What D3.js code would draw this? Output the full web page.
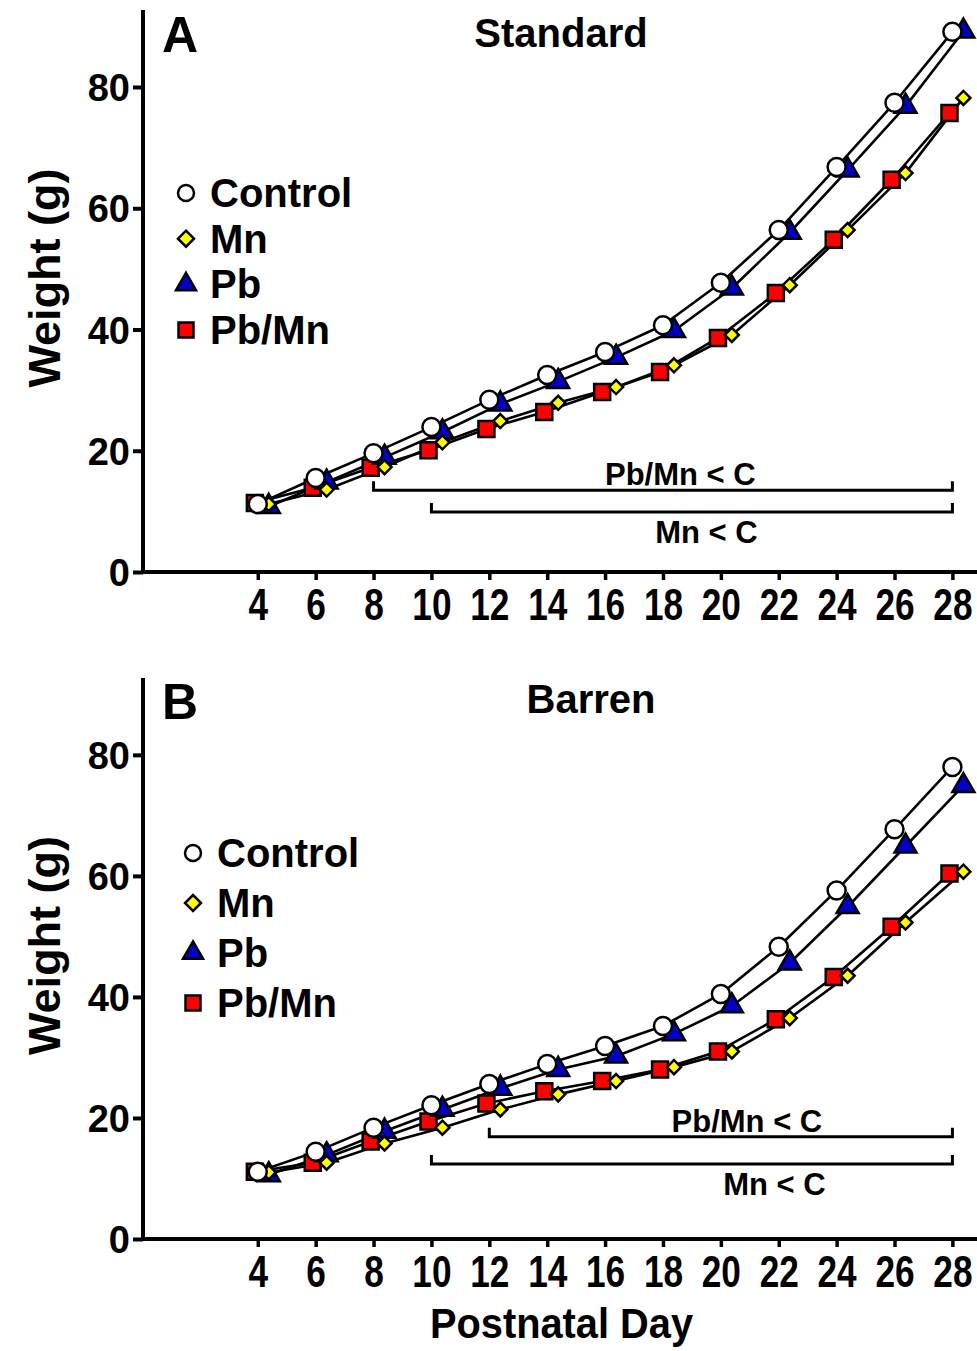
<!DOCTYPE html>
<html>
<head>
<meta charset="utf-8">
<script src="https://cdn.jsdelivr.net/npm/d3@7"></script>
<style>
  html, body { margin: 0; padding: 0; background: #fff; }
  svg { display: block; }
  text { font-family: "Liberation Sans", Arial, Helvetica, sans-serif; font-weight: bold; fill: #000; }
</style>
</head>
<body>
<script>
// ---- data ---------------------------------------------------------------
const days = [4, 6, 8, 10, 12, 14, 16, 18, 20, 22, 24, 26, 28];
const groups = ["Control", "Mn", "Pb", "Pb/Mn"];
const yTicks = [0, 20, 40, 60, 80];

// Body weight (g), standard housing
const standardControl = [11.2, 15.5, 19.6, 23.9, 28.4, 32.5, 36.3, 40.7, 47.7, 56.4, 66.8, 77.4, 89.1];
const standardMn      = [11.2, 13.6, 17.3, 21.4, 24.9, 27.9, 30.5, 34.1, 39.1, 47.3, 56.4, 65.8, 78.2];
const standardPb      = [10.8, 14.8, 18.9, 23.1, 27.7, 31.4, 35.4, 39.8, 46.8, 56.0, 66.3, 76.8, 89.2];
const standardPbMn    = [11.4, 13.9, 17.2, 20.1, 23.6, 26.4, 29.7, 33.0, 38.6, 46.0, 54.8, 64.7, 75.7];

// Body weight (g), barren housing
const barrenControl = [11.1, 14.4, 18.4, 22.1, 25.6, 28.9, 31.9, 35.2, 40.5, 48.3, 57.6, 67.7, 78.0];
const barrenMn      = [11.0, 12.6, 15.8, 18.4, 21.4, 23.9, 26.1, 28.4, 31.0, 36.5, 43.5, 52.3, 60.7];
const barrenPb      = [10.6, 13.9, 17.8, 21.4, 24.9, 28.0, 30.2, 33.9, 38.5, 45.6, 54.9, 64.9, 74.9];
const barrenPbMn    = [11.1, 12.6, 16.1, 19.4, 22.4, 24.4, 26.1, 28.0, 31.0, 36.3, 43.3, 51.6, 60.4];

// Significance brackets: [first day, last day, label]
const standardSig = [[8, 28, "Pb/Mn < C"], [10, 28, "Mn < C"]];
const barrenSig   = [[12, 28, "Pb/Mn < C"], [10, 28, "Mn < C"]];

// ---- styling --------------------------------------------------------------
const seriesStyle = {
  "Control": { shape: "circle",   fill: "#ffffff", dx: 0.0,  size: 9,  legendSize: 8 },
  "Mn":      { shape: "diamond",  fill: "#ffff00", dx: 0.38, size: 7,  legendSize: 8 },
  "Pb":      { shape: "triangle", fill: "#0000c8", dx: 0.38, size: 11, legendSize: 10 },
  "Pb/Mn":   { shape: "square",   fill: "#ff0000", dx: -0.1, size: 8,  legendSize: 7.5 }
};
// drawing order of the markers (last on top)
const drawOrder = ["Pb/Mn", "Pb", "Mn", "Control"];

function shapePath(shape, s) {
  switch (shape) {
    case "circle":
      return `M${s},0A${s},${s} 0 1,1 ${-s},0A${s},${s} 0 1,1 ${s},0Z`;
    case "diamond":
      return `M0,${-s}L${s},0L0,${s}L${-s},0Z`;
    case "square":
      return `M${-s},${-s}H${s}V${s}H${-s}Z`;
    case "triangle": {
      const h = s * Math.sqrt(3);
      return `M0,${-h * 2 / 3}L${s},${h / 3}L${-s},${h / 3}Z`;
    }
  }
}

const panels = [
  {
    letter: "A", title: "Standard", titleX: 561,
    values: { "Control": standardControl, "Mn": standardMn, "Pb": standardPb, "Pb/Mn": standardPbMn },
    sig: standardSig, sigY: [13.5, 9.9], sigLabelDay: [18.6, 19.5], sigLabelBelow: [false, true],
    top: 10, bottom: 572, legendX: 186, legendY: 193, legendStep: 45.7,
    titleY: 47, letterY: 52
  },
  {
    letter: "B", title: "Barren", titleX: 591,
    values: { "Control": barrenControl, "Mn": barrenMn, "Pb": barrenPb, "Pb/Mn": barrenPbMn },
    sig: barrenSig, sigY: [16.9, 12.4], sigLabelDay: [20.9, 21.85], sigLabelBelow: [false, true],
    top: 678, bottom: 1239, legendX: 193, legendY: 853, legendStep: 50,
    titleY: 713, letterY: 719
  }
];

const width = 977, height = 1351;
const svg = d3.select("body").append("svg")
  .attr("width", width).attr("height", height)
  .attr("viewBox", `0 0 ${width} ${height}`);

const x = d3.scaleLinear().domain([0, 28.85]).range([142, 977]);

panels.forEach(p => {
  const y = d3.scaleLinear().domain([0, 92.7]).range([p.bottom, p.top]);
  const g = svg.append("g");

  // y axis
  const yAxis = d3.axisLeft(y).tickValues(yTicks).tickSize(10).tickPadding(3).tickFormat(d3.format("d"));
  const ya = g.append("g").attr("transform", `translate(${x(0) + 1},0)`).call(yAxis);
  ya.select(".domain").attr("stroke", "#000").attr("stroke-width", 4)
    .attr("d", `M0,${p.top}V${p.bottom}`);
  ya.selectAll(".tick line").attr("stroke", "#000").attr("stroke-width", 4);
  ya.selectAll(".tick text").attr("font-size", 38).attr("font-family", null)
    .attr("dy", "0.36em");

  // x axis (condensed numerals)
  const xAxis = d3.axisBottom(x).tickValues(days).tickSize(8).tickPadding(9).tickFormat(d3.format("d"));
  const xa = g.append("g").attr("transform", `translate(0,${p.bottom})`).call(xAxis);
  xa.select(".domain").attr("stroke", "#000").attr("stroke-width", 4)
    .attr("d", `M${x(0) - 1},0H${width}`);
  xa.selectAll(".tick line").attr("stroke", "#000").attr("stroke-width", 3.5);
  xa.selectAll(".tick text").attr("font-size", 44).attr("font-family", null)
    .attr("transform", "scale(0.8,1)");

  // y axis title
  g.append("text")
    .attr("transform", `translate(60,${(p.top + p.bottom) / 2 - 13}) rotate(-90)`)
    .attr("text-anchor", "middle").attr("font-size", 45)
    .text("Weight (g)");

  // panel letter and title
  g.append("text").attr("x", 180).attr("y", p.letterY).attr("text-anchor", "middle")
    .attr("font-size", 50).text(p.letter);
  g.append("text").attr("x", p.titleX).attr("y", p.titleY)
    .attr("text-anchor", "middle").attr("font-size", 40).text(p.title);

  // connecting lines
  const line = (name) => d3.line()
    .x((d, i) => x(days[i] + seriesStyle[name].dx))
    .y(d => y(d));
  drawOrder.forEach(name => {
    g.append("path").datum(p.values[name])
      .attr("d", line(name))
      .attr("fill", "none").attr("stroke", "#000").attr("stroke-width", 2.6)
      .attr("stroke-linejoin", "round");
  });

  // markers
  drawOrder.forEach(name => {
    const st = seriesStyle[name];
    g.append("g").selectAll("path").data(p.values[name]).join("path")
      .attr("transform", (d, i) => `translate(${x(days[i] + st.dx)},${y(d)})`)
      .attr("d", shapePath(st.shape, st.size))
      .attr("fill", st.fill).attr("stroke", "#000").attr("stroke-width", 2.5);
  });

  // significance brackets
  p.sig.forEach((s, k) => {
    const [d0, d1, label] = s;
    const yy = y(p.sigY[k]);
    g.append("path")
      .attr("d", `M${x(d0)},${yy - 9}V${yy}H${x(d1)}V${yy - 9}`)
      .attr("fill", "none").attr("stroke", "#000").attr("stroke-width", 3);
    g.append("text")
      .attr("x", x(p.sigLabelDay[k]))
      .attr("y", p.sigLabelBelow[k] ? yy + 31 : yy - 5)
      .attr("text-anchor", "middle").attr("font-size", 31)
      .text(label);
  });

  // legend
  groups.forEach((name, i) => {
    const st = seriesStyle[name];
    const cy = p.legendY + i * p.legendStep;
    g.append("path")
      .attr("transform", `translate(${p.legendX},${cy})`)
      .attr("d", shapePath(st.shape, st.legendSize))
      .attr("fill", st.fill).attr("stroke", "#000").attr("stroke-width", 2.5);
    g.append("text").attr("x", p.legendX + 24).attr("y", cy + 14)
      .attr("font-size", 40).text(name);
  });
});

// shared x axis title (condensed)
svg.append("text")
  .attr("x", 430).attr("y", 1338)
  .attr("font-size", 42)
  .attr("textLength", 263).attr("lengthAdjust", "spacingAndGlyphs")
  .text("Postnatal Day");
</script>
</body>
</html>
